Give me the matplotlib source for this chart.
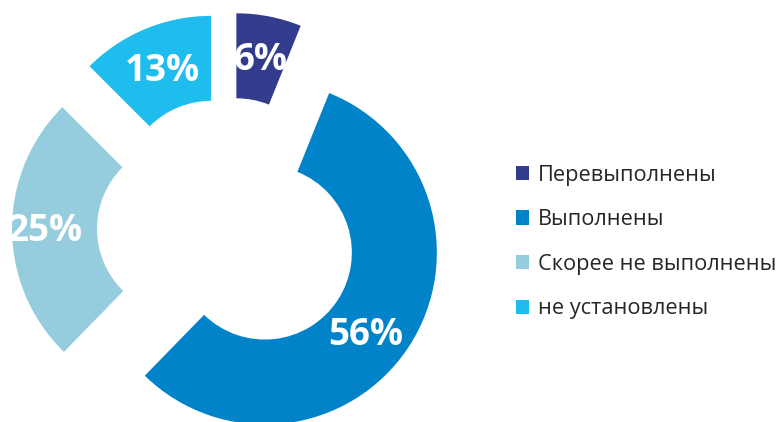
import matplotlib
matplotlib.use("Agg")
import matplotlib.pyplot as plt
import numpy as np

categories = ["Перевыполнены", "Выполнены", "Скорее не выполнены", "не установлены"]
values = [6.1, 56.2, 25.2, 12.5]
pct_labels = ["6%", "56%", "25%", "13%"]
colors = ["#333B8C", "#0083C8", "#95CDDE", "#1EBDEE"]

W, H = 780, 422
fig = plt.figure(figsize=(W / 100, H / 100), dpi=100)
ax = fig.add_axes([0, 0, 1, 1])

R = 172
center = (228, H - 228.5)
wedges, _ = ax.pie(values, radius=R, center=center, startangle=90, counterclock=False,
                   colors=colors, explode=[44] * len(values),
                   wedgeprops=dict(width=85, linewidth=0), frame=True)

label_dist = [0.75, 0.75, 0.81, 0.745]
label_turn = [0, -5.5, 0, 0]
for w, lab, d, dt in zip(wedges, pct_labels, label_dist, label_turn):
    ang = np.deg2rad((w.theta1 + w.theta2) / 2 + dt)
    cx, cy = w.center
    t = ax.text(cx + d * R * np.cos(ang), cy + d * R * np.sin(ang) - 1.5, lab,
                ha="center", va="center", color="white", fontsize=26.5,
                fontweight="bold", family=["Open Sans", "DejaVu Sans"])
    t.set_clip_path(w)

ax.set_xlim(0, W)
ax.set_ylim(0, H)
ax.set_aspect("equal")
ax.axis("off")

leg = ax.legend(wedges, categories, loc="center left",
                bbox_to_anchor=(505 / W, 1 - 242 / H), frameon=False,
                prop=dict(family=["Open Sans", "DejaVu Sans"], size=15.7),
                labelcolor="#262626", handlelength=0.62, handleheight=0.62,
                handletextpad=0.4, labelspacing=1.08, borderpad=0)

fig.savefig("out.png", dpi=100)
